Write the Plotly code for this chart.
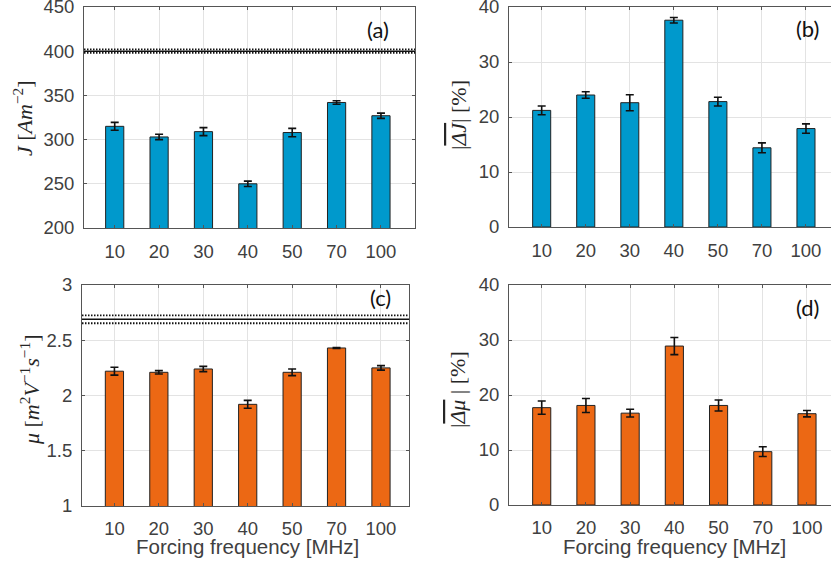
import plotly.graph_objects as go

# ---- data ----
freq = ["10", "20", "30", "40", "50", "70", "100"]
J = [315, 303, 309, 250, 308, 342, 327]
J_err = [4.5, 3, 4.5, 3, 4.7, 2, 3]
dJ = [21.2, 24.0, 22.6, 37.6, 22.8, 14.4, 17.9]
dJ_err = [0.8, 0.6, 1.45, 0.5, 0.8, 0.9, 0.85]
mu = [2.22, 2.21, 2.24, 1.92, 2.21, 2.43, 2.25]
mu_err = [0.036, 0.015, 0.024, 0.036, 0.03, 0.004, 0.02]
dmu = [17.7, 18.1, 16.7, 28.9, 18.1, 9.7, 16.6]
dmu_err = [1.2, 1.27, 0.7, 1.55, 1.0, 0.88, 0.57]
J_ref, J_ref_band = 400, 2.0
mu_ref, mu_ref_band = 2.69, 0.036

yticks_J = [200, 250, 300, 350, 400, 450]
yticks_pct = [0, 10, 20, 30, 40]
yticks_mu = [1, 1.5, 2, 2.5, 3]
yticklabels_mu = ["1", "1.5", "2", "2.5", "3"]

BLUE = "rgb(0,153,204)"
ORANGE = "rgb(236,104,20)"
W, H = 831, 572

def px(x):
    return x / W

def py(y):
    return 1 - y / H

fig = go.Figure()

panels = [
    (J, J_err, BLUE, ""),
    (dJ, dJ_err, BLUE, "2"),
    (mu, mu_err, ORANGE, "3"),
    (dmu, dmu_err, ORANGE, "4"),
]
for vals, errs, col, s in panels:
    fig.add_trace(go.Bar(
        x=freq, y=vals, width=0.41,
        marker=dict(color=col, line=dict(color="#222222", width=1)),
        error_y=dict(type="data", array=errs, color="#111111", thickness=1.6, width=4),
        xaxis="x" + s, yaxis="y" + s, showlegend=False,
    ))

tickfont = dict(family="Liberation Sans, Arial, sans-serif", size=18.5, color="#404040")
gridc = "#e3e3e3"
linec = "#555555"

def xax(domain, rng, anchor, standoff):
    return dict(domain=domain, range=rng, type="category", anchor=anchor,
                showline=True, linecolor=linec, linewidth=1, mirror="ticks",
                ticks="inside", ticklen=3, tickcolor=linec,
                showgrid=True, gridcolor=gridc, gridwidth=1,
                tickfont=tickfont, ticklabelstandoff=standoff, zeroline=False,
                automargin=False, ticklabeloverflow="allow")

def yax(domain, rng, anchor, tickvals, ticktext=None, mirror=True):
    d = dict(domain=domain, range=rng, anchor=anchor,
             showline=True, linecolor=linec, linewidth=1,
             mirror="ticks" if mirror else False,
             ticks="inside", ticklen=3, tickcolor=linec,
             showgrid=True, gridcolor=gridc, gridwidth=1,
             tickvals=tickvals, tickfont=tickfont, ticklabelstandoff=5,
             zeroline=False, automargin=False, ticklabeloverflow="allow")
    if ticktext is not None:
        d["ticktext"] = ticktext
    return d

fig.update_layout(
    width=W, height=H,
    margin=dict(l=0, r=0, t=0, b=0, autoexpand=False),
    paper_bgcolor="white", plot_bgcolor="white",
    xaxis=xax([px(84), px(415)], [-0.692, 6.767], "y", 7),
    yaxis=yax([py(228), py(7)], [200, 450], "x", yticks_J),
    xaxis2=xax([px(509), 1.0], [-0.742, 6.568], "y2", 7),
    yaxis2=yax([py(227), py(7)], [0, 40], "x2", yticks_pct, mirror=False),
    xaxis3=xax([px(82), px(409)], [-0.730, 6.631], "y3", 6),
    yaxis3=yax([py(506), py(285)], [1, 3], "x3", yticks_mu, yticklabels_mu),
    xaxis4=xax([px(509), 1.0], [-0.740, 6.543], "y4", 6),
    yaxis4=yax([py(505), py(285)], [0, 40], "x4", yticks_pct, mirror=False),
)

# reference lines (value +/- band)
for ref, band, xs, ys in [(J_ref, J_ref_band, "x", "y"), (mu_ref, mu_ref_band, "x3", "y3")]:
    fig.add_shape(type="line", xref=xs + " domain", yref=ys, x0=0, x1=1, y0=ref, y1=ref,
                  line=dict(color="#111111", width=1.6))
    for off in (-band, band):
        fig.add_shape(type="line", xref=xs + " domain", yref=ys, x0=0, x1=1,
                      y0=ref + off, y1=ref + off,
                      line=dict(color="#111111", width=1.8, dash="1.5px,1.5px"))

serif = "Liberation Serif, Times New Roman, serif"
ytitles = [
    ("<i>J</i> [<i>Am</i><sup>−2</sup>]", 23, 118),
    ("|<span style=\"text-decoration:overline\"><i>ΔJ</i></span>| [%]", 458, 115),
    ("<i>μ</i> [<i>m</i><sup>2</sup><i>V</i><sup>−1</sup><i>s</i><sup>−1</sup>]", 30, 390),
    ("|<span style=\"text-decoration:overline\"><i>Δμ</i></span> | [%]", 458, 390),
]
for txt, x, y in ytitles:
    fig.add_annotation(text=txt, x=px(x), y=py(y), xref="paper", yref="paper",
                       xanchor="center", yanchor="middle", textangle=-90, showarrow=False,
                       font=dict(family=serif, size=22, color="#262626"))

for x in (247, 674):
    fig.add_annotation(text="Forcing frequency [MHz]", x=px(x), y=py(546), xref="paper", yref="paper",
                       xanchor="center", yanchor="middle", showarrow=False,
                       font=dict(family="Liberation Sans, Arial, sans-serif", size=20.5, color="#404040"))

for lab, x, y in [("(a)", 378, 29), ("(b)", 807, 28), ("(c)", 380, 297), ("(d)", 807, 307)]:
    fig.add_annotation(text=lab, x=px(x), y=py(y), xref="paper", yref="paper",
                       xanchor="center", yanchor="middle", showarrow=False,
                       font=dict(family="Lato, Open Sans, sans-serif", size=22, color="#111111"))

fig.write_html("out.html")
